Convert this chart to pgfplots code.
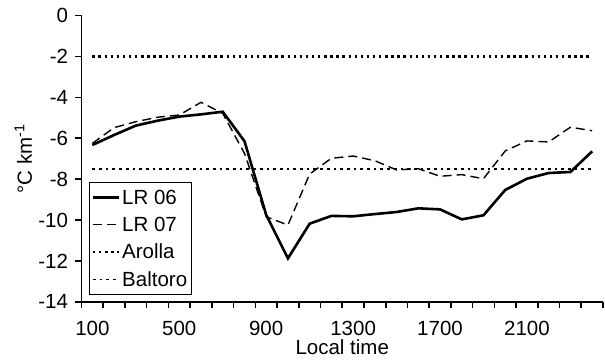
\documentclass[border=0pt]{standalone}
\usepackage{fontspec}
\setmainfont{Liberation Sans}
\usepackage{pgfplots}
\usepackage{pgfplotstable}
\pgfplotsset{compat=1.18}

% Hourly lapse rates (degC per km); x = hour index 1..24 (100 ... 2400 local time)
\pgfplotstableread{
hour lrA lrB
1  -6.33 -6.25
2  -5.84 -5.48
3  -5.38 -5.19
4  -5.14 -4.97
5  -4.94 -4.86
6  -4.83 -4.24
7  -4.70 -4.78
8  -6.14 -6.74
9  -9.75 -9.84
10 -11.88 -10.25
11 -10.18 -7.75
12 -9.80 -6.98
13 -9.82 -6.87
14 -9.71 -7.10
15 -9.61 -7.55
16 -9.43 -7.49
17 -9.48 -7.86
18 -9.97 -7.78
19 -9.77 -7.98
20 -8.53 -6.62
21 -7.98 -6.13
22 -7.70 -6.18
23 -7.65 -5.46
24 -6.64 -5.63
}\lapserates

\begin{document}
\begin{tikzpicture}
\begin{axis}[
  at={(81.5bp,58.3bp)}, anchor=south west,
  scale only axis, width=521.5bp, height=286bp,
  font=\fontsize{20.5bp}{24bp}\selectfont,
  xmin=0.5, xmax=24.5, ymin=-14, ymax=0,
  axis x line=bottom, axis y line=left,
  axis line style={-, line width=1.6bp, black},
  xtick={1,5,9,13,17,21},
  xticklabels={100,500,900,1300,1700,2100},
  minor xtick={0.5,1.5,...,24.5},
  ytick={-14,-12,...,0},
  yticklabels={-14,-12,-10,-8,-6,-4,-2,0},
  tick align=outside,
  major tick length=6bp, minor tick length=6bp,
  major x tick style={draw=none},
  minor x tick style={line width=1.6bp, black},
  ytick style={line width=1.6bp, black},
  xticklabel style={anchor=base, yshift=-28bp},
  yticklabel style={xshift=-4bp},
  xlabel={Local time},
  xlabel style={at={(axis description cs:0.5,-0.186)}, anchor=base},
  ylabel={°C km\textsuperscript{-1}},
  ylabel style={at={(axis description cs:-0.095,0.5)}, anchor=base},
  legend cell align=left,
  legend style={at={(rel axis cs:0.0144,0.4185)}, anchor=north west,
    draw=black, line width=1.2bp, inner xsep=2bp, inner ysep=1.5bp,
    row sep=0bp, nodes={inner ysep=5.6bp},
    font=\fontsize{20.5bp}{24bp}\selectfont},
  legend image code/.code={\draw[#1] (2bp,0bp) -- (28bp,0bp);},
]
\addplot[black, line width=2.6bp, line join=miter] table[x=hour, y=lrA] {\lapserates};
\addlegendentry{LR 06}
\addplot[black, line width=1.4bp, dash pattern=on 9bp off 5bp] table[x=hour, y=lrB] {\lapserates};
\addlegendentry{LR 07}
\addplot[black, line width=2.4bp, dash pattern=on 2.4bp off 3.7bp] coordinates {(1,-2) (24,-2)};
\addlegendentry{Arolla}
\addplot[black, line width=1.3bp, dash pattern=on 2.7bp off 4bp] coordinates {(1,-7.5) (24,-7.5)};
\addlegendentry{Baltoro}
\end{axis}
\pgfresetboundingbox
\path[use as bounding box] (0,0) rectangle (605bp,360bp);
\end{tikzpicture}
\end{document}
